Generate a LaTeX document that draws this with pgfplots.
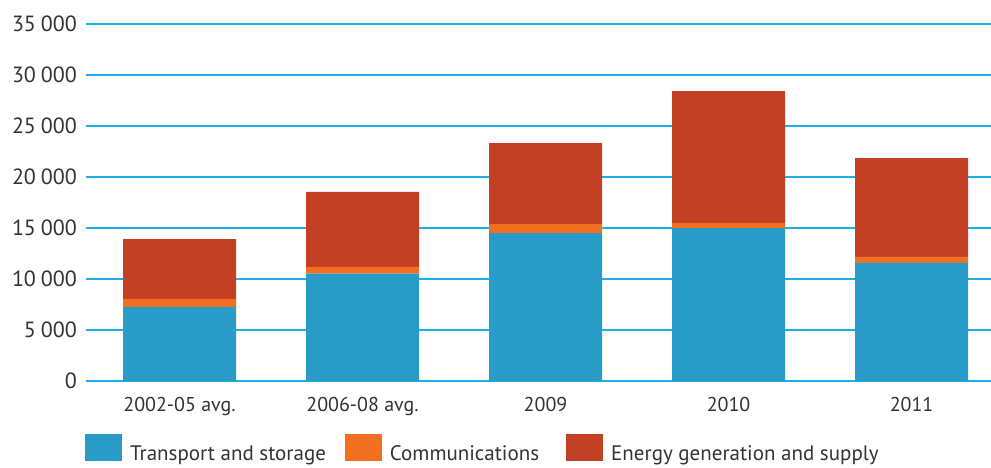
\documentclass[border=0pt]{standalone}
\usepackage{pgfplots}
\pgfplotsset{compat=1.18}
\usepackage{fontspec}
\setmainfont{PT Sans}
\definecolor{transport}{HTML}{299BC8}
\definecolor{comms}{HTML}{F37021}
\definecolor{energy}{HTML}{C44025}
\definecolor{gridc}{HTML}{1AAFE6}
\definecolor{txt}{HTML}{333333}
\begin{document}
\begin{tikzpicture}
\path[use as bounding box] (-86pt,-86pt) rectangle (905pt,381pt);
\begin{axis}[
  at={(0pt,0pt)}, anchor=south west,
  scale only axis, width=905pt, height=357pt,
  ymin=0, ymax=35000, xmin=-0.511, xmax=4.434,
  ybar stacked, bar width=113pt,
  xtick={0,1,2,3,4},
  xticklabels={2002-05 avg.,2006-08 avg.,2009,2010,2011},
  ytick={0,5000,10000,15000,20000,25000,30000,35000},
  ymajorgrids, grid style={gridc, line width=2pt},
  axis line style={draw=none}, major tick length=0pt,
  scaled y ticks=false,
  yticklabel style={font=\fontsize{22}{26}\selectfont, text=txt, inner sep=0pt, xshift=-9pt,
    /pgf/number format/1000 sep={\hspace{0.22em}}, /pgf/number format/assume math mode=true},
  xticklabel style={font=\fontsize{20}{24}\selectfont, text=txt, inner sep=0pt, yshift=-16pt},
  legend columns=3,
  legend style={at={(0,0)}, anchor=north west, xshift=-1pt, yshift=-53pt, draw=none, fill=none,
    inner sep=0pt, font=\fontsize{21}{25}\selectfont, text=txt,
    nodes={inner sep=0pt},
    /tikz/every odd column/.append style={column sep=8pt},
    /tikz/column 2/.append style={column sep=19pt},
    /tikz/column 4/.append style={column sep=27pt}},
  legend image code/.code={\fill[#1] (0pt,-7pt) rectangle (37pt,20pt);},
]
\addplot[fill=transport, draw=none] coordinates {(0,7250) (1,10520) (2,14500) (3,15000) (4,11570)};
\addplot[fill=comms, draw=none] coordinates {(0,800) (1,660) (2,880) (3,490) (4,590)};
\addplot[fill=energy, draw=none] coordinates {(0,5870) (1,7350) (2,7950) (3,12940) (4,9700)};
\legend{Transport and storage, Communications, Energy generation and supply}
\end{axis}
\end{tikzpicture}
\end{document}
